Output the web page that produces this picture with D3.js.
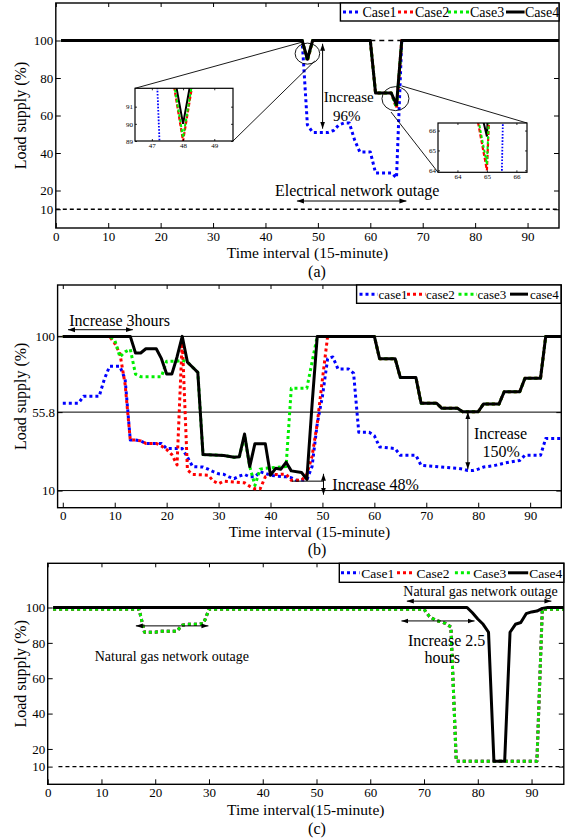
<!DOCTYPE html>
<html>
<head>
<meta charset="utf-8">
<script src="https://cdn.jsdelivr.net/npm/d3@7"></script>
<style>
  body { margin: 0; background: #fff; }
  svg text { font-family: "Liberation Serif", "Times New Roman", serif; fill: #000; }
</style>
</head>
<body>
<svg id="chart" width="576" height="839"></svg>
<script>
/* Load supply (%) under three outage scenarios, 15-minute intervals */

// ---------- data: [time interval, load supply %] breakpoints ----------
// (a) electrical network outage
const aCase1 = [[1,100],[47,100],[48,55],[49,51],[52,51],[53,52],[54,55],[55,56],[56,56],[57,47],[58,40.6],[60,40.6],[61,29.4],[64,29.4],[65,26.8],[66,100],[96,100]];
const aCase2 = [[1,100],[47,100],[48,89],[49,100],[60,100],[61,72],[64,72],[65,64],[66,100],[96,100]];
const aCase3 = [[1,100],[47,100],[48,89.2],[49,100],[60,100],[61,72],[64,72],[65,64.3],[66,100],[96,100]];
const aCase4 = [[1,100],[47,100],[48,90],[49,100],[60,100],[61,72],[64,72],[65,65.7],[66,100],[96,100]];
const aRef100 = [[60,100],[66,100]];
const aRef10 = [[0,10],[96,10]];

// (b) — after recovery cases 2-4 share the same stepped profile
const bRecovery = [[60,100],[61,87],[64,87],[65,76],[68,76],[69,61],[72,61],[73,58],[76,58],[77,56],[80,56],[81,60.5],[84,60.5],[85,67.7],[88,67.7],[89,75.6],[92,75.6],[93,100],[96,100]];
const bCase1 = [[0,61],[3,61],[4,65],[7,65],[8,75],[9,82.5],[11,82.5],[12,75],[13,39.5],[14,39.5],[15,39],[16,37.5],[19,37.5],[20,34.5],[23,34.5],[24,29.5],[25,24],[27,23.7],[28,22.5],[29,21],[30,19.8],[31,19.5],[32,18],[33,17],[34,18.5],[35,19.4],[36,18],[37,18],[38,21],[39,20],[40,19],[41,18.5],[43,18],[44,17.5],[45,16],[47,16.3],[48,24],[49,49],[50,65],[51,87],[52,88],[53,81],[55,81],[56,78.5],[57,44],[59,44],[60,42],[61,35.5],[64,34.5],[65,30.6],[68,30.6],[69,24.7],[76,23],[77,22.5],[78,21.7],[79,21.7],[80,22.5],[81,23.7],[83,24.5],[85,26],[86,26.6],[88,27.6],[89,30.6],[92,30.6],[93,40.4],[96,40.4]];
const bCase2 = [[0,100],[9,100],[10,96],[11,90],[12,72],[13,39.5],[14,39.5],[15,39],[16,37.5],[18,37.5],[19,36],[20,34],[21,31],[22,25],[23,98],[24,22],[25,19.4],[28,19],[29,15.5],[30,14],[31,15.5],[33,15],[35,14.5],[36,12.5],[37,11],[38,11],[39,18],[40,19.4],[43,19.5],[44,16],[46,16],[47,19.5],[48,30],[49,49],[50,75],[51,100]].concat(bRecovery);
const bCase3 = [[0,100],[9,100],[10,98],[11,88],[12,91],[13,92.5],[14,78],[15,76.5],[19,76.5],[20,85.5],[22,85.5],[23,86],[24,85],[25,82],[26,79],[27,31],[31,30.5],[33,29.5],[34,29.8],[35,42],[36,24],[37,13],[38,22.5],[39,23],[41,23.5],[43,24],[44,69.7],[47,69.7],[48,85],[49,100]].concat(bRecovery);
const bCase4 = [[0,100],[13,100],[14,90.3],[15,90.3],[16,92.8],[18,92.8],[19,87],[20,78],[21,78],[22,88],[23,100],[24,85],[25,82],[26,79],[27,31],[31,30.5],[33,29.5],[34,29.8],[35,43],[36,24],[37,37.4],[39,37.4],[40,19],[41,23],[42,22.5],[43,26.5],[44,21.5],[46,20.5],[47,16.5],[48,60],[49,100]].concat(bRecovery);
const bGrid = [10, 55.8, 100];

// (c) natural gas network outage
const cCase1 = [[1,99],[17,99],[18,86],[20,86],[21,86.5],[24,86.5],[25,90],[26,90.5],[28,90.5],[29,91],[30,99],[70,99],[71,95],[72,93],[73,92],[74,91],[75,89],[76,13],[91,13],[92,99],[96,99]];
const cCase2 = cCase1.map(d => d.slice());
const cCase3 = cCase1.map(d => d.slice());
const cCase4 = [[1,100],[78,100],[79,97],[80,93.5],[81,90.5],[82,86],[83,13],[85,13],[86,86],[87,90.5],[88,91.5],[89,96.5],[90,97.5],[91,98],[92,99.5],[93,100],[96,100]];
const cRef10 = [[2,10],[96,10]];

// ticks and labels
const xTicks = [0, 10, 20, 30, 40, 50, 60, 70, 80, 90];
const yTicksA = [10, 20, 40, 60, 80, 100];
const yTicksB = [10, 55.8, 100];
const yTicksC = [10, 20, 40, 60, 80, 100];
const legendUpper = ['Case1', 'Case2', 'Case3', 'Case4'];
const legendLower = ['case1', 'case2', 'case3', 'case4'];
const insetA1 = { x: [47, 48, 49], y: [89, 90, 91] };
const insetA2 = { x: [64, 65, 66], y: [64, 65, 66] };

// ---------- styles ----------
const STYLE = [
  { stroke: '#0000ff', width: 3, dash: '3,3' },
  { stroke: '#ff0000', width: 3, dash: '3,3' },
  { stroke: '#00ee00', width: 3, dash: '3,3' },
  { stroke: '#000000', width: 3, dash: null }
];

const svg = d3.select('#chart');
const defs = svg.append('defs');
defs.append('marker')
  .attr('id', 'ah')
  .attr('viewBox', '0 0 10 10')
  .attr('refX', 10).attr('refY', 5)
  .attr('markerWidth', 7).attr('markerHeight', 7)
  .attr('markerUnits', 'userSpaceOnUse')
  .attr('orient', 'auto-start-reverse')
  .append('path').attr('d', 'M0,1.5L10,5L0,8.5z').attr('fill', '#000');

let clipId = 0;

function panel(cfg) {
  const g = svg.append('g');
  const x = d3.scaleLinear().domain(cfg.xDomain).range([cfg.left, cfg.right]);
  const y = d3.scaleLinear().domain(cfg.yDomain).range([cfg.bottom, cfg.top]);
  const id = 'clip' + (clipId++);
  defs.append('clipPath').attr('id', id).append('rect')
    .attr('x', cfg.left).attr('y', cfg.top)
    .attr('width', cfg.right - cfg.left).attr('height', cfg.bottom - cfg.top);

  const styleAxis = sel => {
    sel.attr('font-family', null).attr('font-size', null);
    sel.select('.domain').remove();
    sel.selectAll('.tick line').attr('stroke', '#000').attr('stroke-width', 1);
    sel.selectAll('text').attr('font-size', 13);
  };

  g.append('g').attr('transform', `translate(0,${cfg.bottom})`)
    .call(d3.axisBottom(x).tickValues(xTicks).tickSize(-5).tickPadding(3.5))
    .call(styleAxis);
  g.append('g').attr('transform', `translate(0,${cfg.top})`)
    .call(d3.axisTop(x).tickValues(xTicks).tickSize(-4).tickFormat(''))
    .call(styleAxis);
  g.append('g').attr('transform', `translate(${cfg.left},0)`)
    .call(d3.axisLeft(y).tickValues(cfg.yTicks).tickSize(-5).tickPadding(2.5).tickFormat(d => String(d)))
    .call(styleAxis);
  g.append('g').attr('transform', `translate(${cfg.right},0)`)
    .call(d3.axisRight(y).tickValues(cfg.yTicks).tickSize(-5).tickFormat(''))
    .call(styleAxis);

  g.append('text')
    .attr('transform', `translate(26,${(cfg.top + cfg.bottom) / 2}) rotate(-90)`)
    .attr('text-anchor', 'middle').attr('font-size', 16)
    .text('Load supply (%)');
  g.append('text')
    .attr('x', (cfg.left + cfg.right) / 2).attr('y', cfg.titleY)
    .attr('text-anchor', 'middle').attr('font-size', 15.5)
    .text(cfg.xTitle);
  g.append('text')
    .attr('x', 317).attr('y', cfg.captionY)
    .attr('text-anchor', 'middle').attr('font-size', 16)
    .text(cfg.caption);

  const plot = g.append('g').attr('clip-path', `url(#${id})`);
  return { g, plot, x, y, cfg };
}

function drawSeries(p, list, styles) {
  const line = d3.line().x(d => p.x(d[0])).y(d => p.y(d[1]));
  list.forEach((data, i) => {
    const s = styles[i];
    p.plot.append('path')
      .attr('d', line(data))
      .attr('fill', 'none')
      .attr('stroke', s.stroke)
      .attr('stroke-width', s.width)
      .attr('stroke-dasharray', s.dash)
      .attr('stroke-linejoin', 'round');
  });
}

function refLine(p, data, opts) {
  p.plot.append('path')
    .attr('d', d3.line().x(d => p.x(d[0])).y(d => p.y(d[1]))(data))
    .attr('fill', 'none').attr('stroke', '#000')
    .attr('stroke-width', opts.width)
    .attr('stroke-dasharray', opts.dash);
}

function box(p) {
  const c = p.cfg;
  p.g.append('rect')
    .attr('x', c.left).attr('y', c.top)
    .attr('width', c.right - c.left).attr('height', c.bottom - c.top)
    .attr('fill', 'none').attr('stroke', '#000').attr('stroke-width', 1.4);
}

function arrow(p, x1, y1, x2, y2, both = true) {
  p.g.append('line')
    .attr('x1', p.x(x1)).attr('y1', p.y(y1))
    .attr('x2', p.x(x2)).attr('y2', p.y(y2))
    .attr('stroke', '#000').attr('stroke-width', 1)
    .attr('marker-start', both ? 'url(#ah)' : null)
    .attr('marker-end', 'url(#ah)');
}

function label(p, tx, ty, text, size, anchor = 'middle') {
  p.g.append('text')
    .attr('x', p.x(tx)).attr('y', p.y(ty))
    .attr('text-anchor', anchor).attr('font-size', size)
    .text(text);
}

// legend: box [x0,x1,y0,y1]; items = [sampleStart, sampleEnd, textX]
function legend(p, b, items, names, size) {
  const lg = p.g.append('g');
  lg.append('rect')
    .attr('x', b[0]).attr('y', b[2]).attr('width', b[1] - b[0]).attr('height', b[3] - b[2])
    .attr('fill', '#fff').attr('stroke', '#000').attr('stroke-width', 1.4);
  const cy = (b[2] + b[3]) / 2;
  items.forEach((it, i) => {
    const s = STYLE[i];
    lg.append('line')
      .attr('x1', it[0]).attr('x2', it[1]).attr('y1', cy).attr('y2', cy)
      .attr('stroke', s.stroke).attr('stroke-width', s.width).attr('stroke-dasharray', s.dash);
    lg.append('text')
      .attr('x', it[2]).attr('y', cy).attr('dy', '0.35em')
      .attr('font-size', size).text(names[i]);
  });
}

function inset(p, b, xd, yd, ticks, list) {
  const ig = p.g.append('g');
  const x = d3.scaleLinear().domain(xd).range([b[0], b[1]]);
  const y = d3.scaleLinear().domain(yd).range([b[3], b[2]]);
  const id = 'clip' + (clipId++);
  defs.append('clipPath').attr('id', id).append('rect')
    .attr('x', b[0]).attr('y', b[2]).attr('width', b[1] - b[0]).attr('height', b[3] - b[2]);
  ig.append('rect')
    .attr('x', b[0]).attr('y', b[2]).attr('width', b[1] - b[0]).attr('height', b[3] - b[2])
    .attr('fill', '#fff');
  const styles = [
    { stroke: '#0000ff', width: 1.8, dash: '1.6,1.6' },
    { stroke: '#ff0000', width: 2.2, dash: '4,2' },
    { stroke: '#00ee00', width: 2, dash: '3,2' },
    { stroke: '#000000', width: 2, dash: null }
  ];
  const line = d3.line().x(d => x(d[0])).y(d => y(d[1]));
  const pl = ig.append('g').attr('clip-path', `url(#${id})`);
  [3, 1, 2, 0].forEach(i => {
    const s = styles[i];
    pl.append('path').attr('d', line(list[i])).attr('fill', 'none')
      .attr('stroke', s.stroke).attr('stroke-width', s.width).attr('stroke-dasharray', s.dash);
  });
  const st = sel => {
    sel.attr('font-family', null).attr('font-size', null);
    sel.select('.domain').remove();
    sel.selectAll('.tick line').attr('stroke', '#000').attr('stroke-width', 0.8);
    sel.selectAll('text').attr('font-size', 7);
  };
  const fmt = d3.format('d');
  ig.append('g').attr('transform', `translate(0,${b[3]})`)
    .call(d3.axisBottom(x).tickValues(ticks.x).tickSize(-2).tickPadding(2).tickFormat(fmt)).call(st);
  ig.append('g').attr('transform', `translate(${b[0]},0)`)
    .call(d3.axisLeft(y).tickValues(ticks.y).tickSize(-2).tickPadding(2).tickFormat(fmt)).call(st);
  ig.append('g').attr('transform', `translate(0,${b[2]})`)
    .call(d3.axisTop(x).tickValues(ticks.x).tickSize(-2).tickFormat('')).call(st);
  ig.append('g').attr('transform', `translate(${b[1]},0)`)
    .call(d3.axisRight(y).tickValues(ticks.y).tickSize(-2).tickFormat('')).call(st);
  ig.append('rect')
    .attr('x', b[0]).attr('y', b[2]).attr('width', b[1] - b[0]).attr('height', b[3] - b[2])
    .attr('fill', 'none').attr('stroke', '#000').attr('stroke-width', 1.2);
}

function connector(p, pts) {
  p.g.append('line')
    .attr('x1', pts[0][0]).attr('y1', pts[0][1]).attr('x2', pts[1][0]).attr('y2', pts[1][1])
    .attr('stroke', '#000').attr('stroke-width', 0.9);
}

// ---------- (a) ----------
const pa = panel({
  left: 55.8, right: 559, top: 3, bottom: 228,
  xDomain: [0, 96], yDomain: [0, 120], yTicks: yTicksA,
  xTitle: 'Time interval (15-minute)', titleY: 257.5, caption: '(a)', captionY: 277
});
refLine(pa, aRef10, { width: 1.3, dash: '4,3' });
refLine(pa, aRef100, { width: 1.3, dash: '5,4' });
label(pa, 55.9, 67, 'Increase', 15);
label(pa, 55.5, 57.2, '96%', 15);
label(pa, 57.5, 17.3, 'Electrical network outage', 16);
arrow(pa, 50.9, 98.3, 50.9, 53);
arrow(pa, 46, 14.4, 66.9, 14.4);
drawSeries(pa, [aCase1, aCase2, aCase3, aCase4], STYLE);
[[48, 93, 12.3, 10.5], [64.8, 69, 13.5, 12]].forEach(e => {
  pa.g.append('ellipse')
    .attr('cx', pa.x(e[0])).attr('cy', pa.y(e[1])).attr('rx', e[2]).attr('ry', e[3])
    .attr('fill', 'none').attr('stroke', '#000').attr('stroke-width', 0.9);
});
connector(pa, [[135, 88.3], [301.5, 42.3]]);
connector(pa, [[233, 141], [314.7, 61]]);
connector(pa, [[402, 86], [527, 123]]);
connector(pa, [[391, 112], [438, 172.3]]);
inset(pa, [135, 233, 88.3, 141], [46.46, 49.6], [89, 92.07], insetA1, [aCase1, aCase2, aCase3, aCase4]);
inset(pa, [438, 527, 123, 172.3], [63.34, 66.36], [63.9, 66.38], insetA2, [aCase1, aCase2, aCase3, aCase4]);
box(pa);
legend(pa, [340.4, 559, 3, 21], [[343, 361, 362.4], [398, 414.5, 415], [448, 469.5, 470], [506, 524.6, 525]], legendUpper, 14);

// ---------- (b) ----------
const pb = panel({
  left: 57.6, right: 561.3, top: 285, bottom: 507.7,
  xDomain: [-1, 96], yDomain: [0, 130], yTicks: yTicksB,
  xTitle: 'Time interval (15-minute)', titleY: 537, caption: '(b)', captionY: 555
});
bGrid.forEach(v => refLine(pb, [[-1, v], [96, v]], { width: 1, dash: null }));
label(pb, 10.95, 106.3, 'Increase 3hours', 16);
arrow(pb, 1, 103.9, 13.5, 103.9);
label(pb, 51.9, 10.6, 'Increase 48%', 16, 'start');
label(pb, 84.3, 40.3, 'Increase', 16);
label(pb, 84.4, 29.6, '150%', 16);
drawSeries(pb, [bCase1, bCase2, bCase3, bCase4], STYLE);
pb.g.append('line')
  .attr('x1', pb.x(44.1)).attr('x2', pb.x(50.2)).attr('y1', pb.y(15.5)).attr('y2', pb.y(15.5))
  .attr('stroke', '#000').attr('stroke-width', 1);
arrow(pb, 50.2, 19.8, 50.2, 7.6);
arrow(pb, 78, 55.8, 78, 22.5);
box(pb);
legend(pb, [356.6, 561, 285, 303.3], [[359.5, 377.8, 378.6], [407, 425.5, 426], [458.5, 477, 477.5], [510, 528, 530]], legendLower, 13);

// ---------- (c) ----------
const pc = panel({
  left: 47.7, right: 563.8, top: 563.3, bottom: 784.3,
  xDomain: [0, 96], yDomain: [0, 125], yTicks: yTicksC,
  xTitle: 'Time interval(15-minute)', titleY: 815, caption: '(c)', captionY: 834
});
refLine(pc, cRef10, { width: 1.3, dash: '4,3' });
label(pc, 80.5, 106.3, 'Natural gas network outage', 14);
arrow(pc, 66.8, 103.6, 93.7, 103.6);
label(pc, 74.2, 78.4, 'Increase 2.5', 16);
label(pc, 73.4, 68.5, 'hours', 16);
arrow(pc, 65.8, 92.4, 79.4, 92.4);
label(pc, 23.1, 69.8, 'Natural gas network outage', 14);
arrow(pc, 16.4, 89.6, 29.9, 89.6);
drawSeries(pc, [cCase1, cCase2, cCase3, cCase4], STYLE);
box(pc);
legend(pc, [339.3, 563.8, 563.3, 582.3], [[341, 359.5, 361.3], [397, 414.5, 416.4], [454.9, 471.4, 473.2], [508, 528.2, 529.3]], legendUpper, 13.5);
</script>
</body>
</html>
